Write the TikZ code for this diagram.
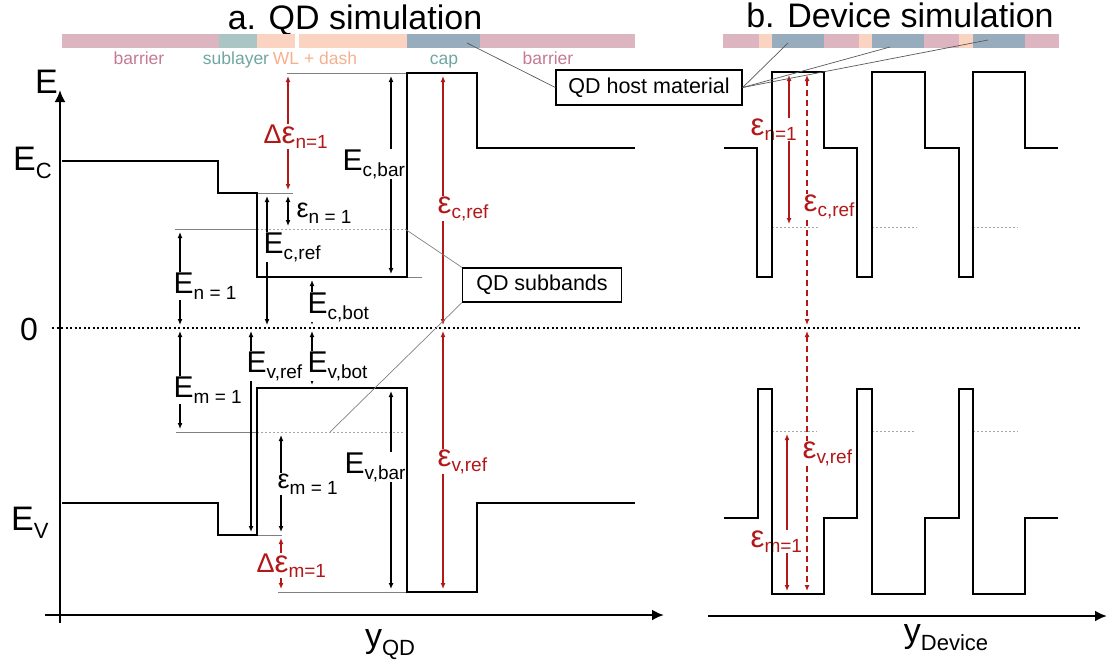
\documentclass[tikz,border=0pt]{standalone}
\usepackage{fontspec}
\setmainfont{Liberation Sans}
\usetikzlibrary{arrows.meta}
\definecolor{dred}{RGB}{178,24,24}
\definecolor{barC}{RGB}{221,181,193}
\definecolor{subC}{RGB}{169,198,196}
\definecolor{wlC}{RGB}{250,212,192}
\definecolor{capC}{RGB}{151,173,189}
\definecolor{barT}{RGB}{196,122,149}
\definecolor{subT}{RGB}{111,166,162}
\definecolor{wlT}{RGB}{245,176,142}
\newcommand\sbs[1]{\raisebox{-6pt}{\fontsize{19}{19}\selectfont #1}}
\newcommand\rsbs[1]{\raisebox{-5pt}{\fontsize{19}{19}\selectfont #1}}
\newcommand\bigeps{{\fontsize{31}{31}\selectfont ε}}
\newcommand\axsub[1]{\raisebox{-8pt}{\fontsize{22}{22}\selectfont #1}}
\begin{document}
\begin{tikzpicture}[x=1pt,y=-1pt,
  band/.style={line width=2.8pt,line join=miter},
  axis/.style={line width=2.8pt,-{Latex[length=12pt,width=11pt]}},
  refline/.style={line width=0.8pt,gray},
  subline/.style={line width=1pt,gray!70,dash pattern=on 2pt off 2pt},
  dim/.style={line width=1.2pt,{Latex[length=6pt,width=5pt]}-{Latex[length=6pt,width=5pt]},shorten <=3pt,shorten >=3pt},
  rdim/.style={dim,dred,line width=1.5pt},
  lab/.style={anchor=base west,fill=white,inner sep=0.5pt,font=\fontsize{30}{32}\selectfont},
  glab/.style={lab,font=\fontsize{27}{30}\selectfont},
  rlab/.style={glab,text=dred},
  barlab/.style={anchor=base,font=\fontsize{17.5}{19}\selectfont,inner sep=0pt},
  title/.style={anchor=base,font=\fontsize{34}{36}\selectfont,inner sep=0pt},
  axlab/.style={anchor=base west,font=\fontsize{34}{36}\selectfont,inner sep=0pt},
  callbox/.style={draw,line width=1.3pt,fill=white,inner sep=0pt,font=\fontsize{21.5}{23}\selectfont},
  call/.style={line width=0.7pt,gray!70!black}]
\useasboundingbox (0,0) rectangle (1110,664);

% titles
\node[title] (ta) at (355,29) {a. QD simulation};
\node[title] (tb) at (900,27) {b. Device simulation};

% left material bar
\fill[barC] (62,34) rectangle (219,48);
\fill[subC] (219,34) rectangle (257,48);
\fill[wlC] (257,34) rectangle (295,48);
\fill[wlC] (299,34) rectangle (407,48);
\fill[capC] (407,34) rectangle (480,48);
\fill[barC] (480,34) rectangle (635,48);
\node[barlab,text=barT] (lb1) at (139,64) {barrier};
\node[barlab,text=subT] (lb2) at (236,64) {sublayer};
\node[barlab,text=wlT] (lb3) at (315,64) {WL + dash};
\node[barlab,text=subT] (lb4) at (444,64) {cap};
\node[barlab,text=barT] (lb5) at (548,64) {barrier};

% right material bar
\fill[barC] (723,34) rectangle (759,48);
\fill[wlC] (759,34) rectangle (772,48);
\fill[capC] (772,34) rectangle (824,48);
\fill[barC] (824,34) rectangle (859,48);
\fill[wlC] (859,34) rectangle (872,48);
\fill[capC] (872,34) rectangle (924,48);
\fill[barC] (924,34) rectangle (959,48);
\fill[wlC] (959,34) rectangle (973,48);
\fill[capC] (973,34) rectangle (1025,48);
\fill[barC] (1025,34) rectangle (1059,48);

% zero line
\draw[line width=2pt,dash pattern=on 2pt off 2.5pt] (52,328) -- (1082,328);

% gray reference lines
\draw[refline] (287,73) -- (407,73);
\draw[refline] (257,193) -- (293,193);
\draw[refline] (407,277) -- (422,277);
\draw[refline] (278,592) -- (407,592);
\draw[refline] (257,535) -- (282,535);
\draw[refline] (175,229) -- (257,229);
\draw[subline] (257,229) -- (405,229);
\draw[refline] (176,432) -- (257,432);
\draw[subline] (257,432) -- (405,432);
\draw[subline] (772,227) -- (818,227);
\draw[subline] (872,227) -- (917,227);
\draw[subline] (973,227) -- (1018,227);
\draw[subline] (772,431) -- (817,431);
\draw[subline] (872,431) -- (915,431);
\draw[subline] (973,431) -- (1018,431);

% dimension arrows left
\draw[dim] (180,229) -- (180,328);
\draw[dim] (180,328) -- (180,432);
\draw[dim] (267,193) -- (267,328);
\draw[dim] (251,328) -- (251,535);
\draw[dim] (288,193) -- (288,229);
\draw[dim] (281,432) -- (281,535);
\draw[dim] (391,73) -- (391,277);
\draw[dim] (391,388) -- (391,592);
\draw[dim] (312,277) -- (312,328);
\draw[dim] (312,328) -- (312,388);
\draw[rdim] (288,73) -- (288,193);
\draw[rdim] (281,535) -- (281,592);
\draw[rdim] (443,73) -- (443,328);
\draw[rdim] (443,328) -- (443,592);
% right
\draw[rdim] (789,72) -- (789,227);
\draw[rdim,dash pattern=on 6pt off 4pt] (807,72) -- (807,328);
\draw[rdim] (787,431) -- (787,594);
\draw[rdim,dash pattern=on 6pt off 4pt] (807,328) -- (807,594);

% labels left
\node[lab] (ecbar) at (342,170) {E\sbs{c,bar}};
\node[lab] (evbar) at (344,473) {E\sbs{v,bar}};
\node[lab] (ecref) at (263,253) {E\sbs{c,ref}};
\node[lab] (evref) at (246,372) {E\sbs{v,ref}};
\node[lab] (ecbot) at (307,313) {E\sbs{c,bot}};
\node[lab] (evbot) at (307,372) {E\sbs{v,bot}};
\node[lab] (en1) at (173,293) {E\sbs{n = 1}};
\node[lab] (em1) at (173,397) {E\sbs{m = 1}};
\node[glab] (epn) at (296,217) {ε\sbs{n = 1}};
\node[glab] (epm) at (277,488) {ε\sbs{m = 1}};
\node[rlab] (dn) at (263,143) {Δ\bigeps\rsbs{n=1}};
\node[rlab] (dm) at (256,572) {Δ\bigeps\rsbs{m=1}};
\node[rlab] (ecr) at (437,213) {\bigeps\rsbs{c,ref}};
\node[rlab] (evr) at (437,466) {\bigeps\rsbs{v,ref}};
% labels right
\node[rlab] (rn) at (750,135) {\bigeps\rsbs{n=1}};
\node[rlab] (rcr) at (803,211) {\bigeps\rsbs{c,ref}};
\node[rlab] (rvr) at (802,458) {\bigeps\rsbs{v,ref}};
\node[rlab] (rm) at (750,547) {\bigeps\rsbs{m=1}};

% band edges left
\draw[band] (62,161) -- (218,161) -- (218,193) -- (257,193) -- (257,277) -- (407,277) -- (407,73) -- (477,73) -- (477,148) -- (635,148);
\draw[band] (62,503) -- (218,503) -- (218,535) -- (257,535) -- (257,388) -- (407,388) -- (407,592) -- (477,592) -- (477,503) -- (635,503);
% band edges right
\draw[band] (724,148) -- (757,148) -- (757,277) -- (772,277) -- (772,72) -- (824,72) -- (824,148) -- (857,148) -- (857,277) -- (872,277) -- (872,72) -- (925,72) -- (925,148) -- (959,148) -- (959,277) -- (973,277) -- (973,72) -- (1025,72) -- (1025,148) -- (1058,148);
\draw[band] (724,518) -- (758,518) -- (758,389) -- (772,389) -- (772,594) -- (824,594) -- (824,518) -- (857,518) -- (857,389) -- (872,389) -- (872,594) -- (925,594) -- (925,518) -- (959,518) -- (959,389) -- (973,389) -- (973,594) -- (1025,594) -- (1025,518) -- (1058,518);

% axes
\draw[axis] (60,623) -- (60,90);
\draw[axis] (45,615) -- (664,615);
\draw[axis] (708,616) -- (1107,616);
\node[axlab] (lE) at (35,93) {E};
\node[axlab] (lEc) at (13,170) {E\axsub{C}};
\node[axlab,font=\fontsize{32}{34}\selectfont] (l0) at (20,340) {0};
\node[axlab] (lEv) at (11,530) {E\axsub{V}};
\node[title] (lyqd) at (390,647) {y\axsub{QD}};
\node[title] (lydev) at (946,642) {y\axsub{Device}};

% callout boxes
\node[callbox,minimum width=159pt,minimum height=34pt] (sub) at (542,285) {QD subbands};
\node[callbox,minimum width=186pt,minimum height=35pt] (host) at (649,87.5) {QD host material};
\coordinate (cbsub) at (405,229);
\coordinate (vbsub) at (330,432);
\draw[call,gray] (cbsub) -- (sub.north west);
\draw[call,gray] (sub.south west) -- (vbsub);
\coordinate (capA) at (467,43);
\coordinate (capB) at (788,43);
\coordinate (capC2) at (890,47);
\coordinate (capD) at (988,40);
\draw[call] (capA) -- (host.west);
\draw[call] (host.east) -- (capB);
\draw[call] (host.east) -- (capC2);
\draw[call] (host.east) -- (capD);
\end{tikzpicture}
\end{document}
